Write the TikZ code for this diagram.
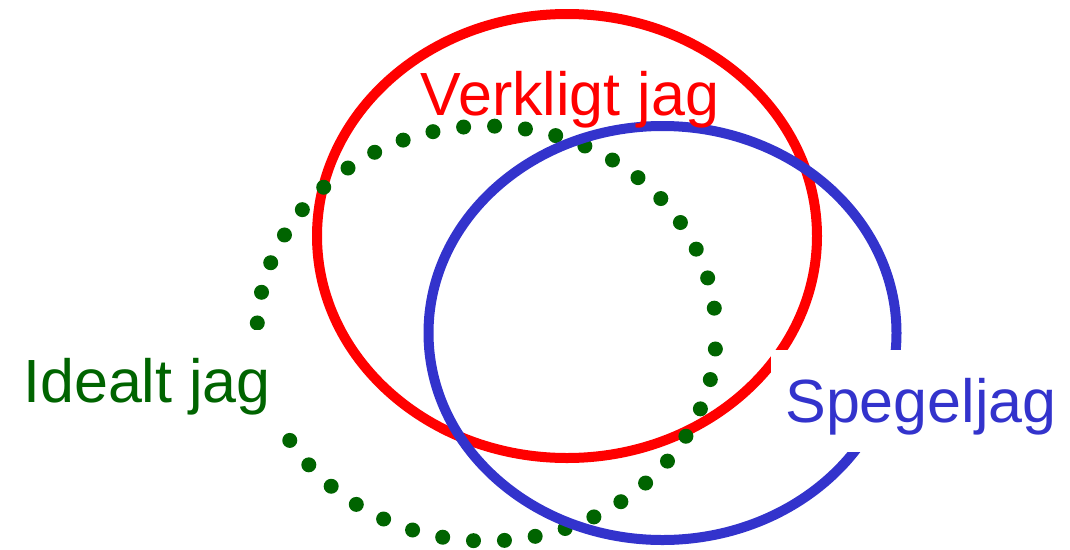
\documentclass[tikz,border=0pt]{standalone}
\usepackage{fontspec}
\setmainfont{Liberation Sans}
\usepackage{tikz}

\definecolor{realred}{RGB}{255,0,0}
\definecolor{mirrorblue}{RGB}{51,51,204}
\definecolor{idealgreen}{RGB}{0,100,0}

\begin{document}
\begin{tikzpicture}[x=1pt, y=-1pt, line width=10pt,
  selflabel/.style={font=\fontsize{61}{70}\selectfont, anchor=base, inner sep=0pt},
  labelbox/.style={selflabel, fill=white, inner xsep=14pt, inner ysep=10pt, text height=62pt, text depth=20pt}]

\useasboundingbox (0, 0) rectangle (1070, 549);

% draw the real self
\draw[color=realred] (567, 236) ellipse [x radius=250, y radius=222];

% draw the ideal self as round dots
\draw[color=idealgreen, line width=15pt, line cap=round, dash pattern=on 0pt off 31pt, dash phase=15.5pt]
  (486.5, 333.5) ellipse [x radius=229.5, y radius=207.5];

% draw the mirror self
\draw[color=mirrorblue] (662.5, 333) ellipse [x radius=234, y radius=207];

% draw labels
\node[selflabel, text=realred] (real) at (570, 115) {Verkligt jag};
\node[labelbox, text=idealgreen] (ideal) at (147, 402) {Idealt jag};
\node[labelbox, text=mirrorblue] (mirror) at (921, 422) {Spegeljag};

\end{tikzpicture}
\end{document}
